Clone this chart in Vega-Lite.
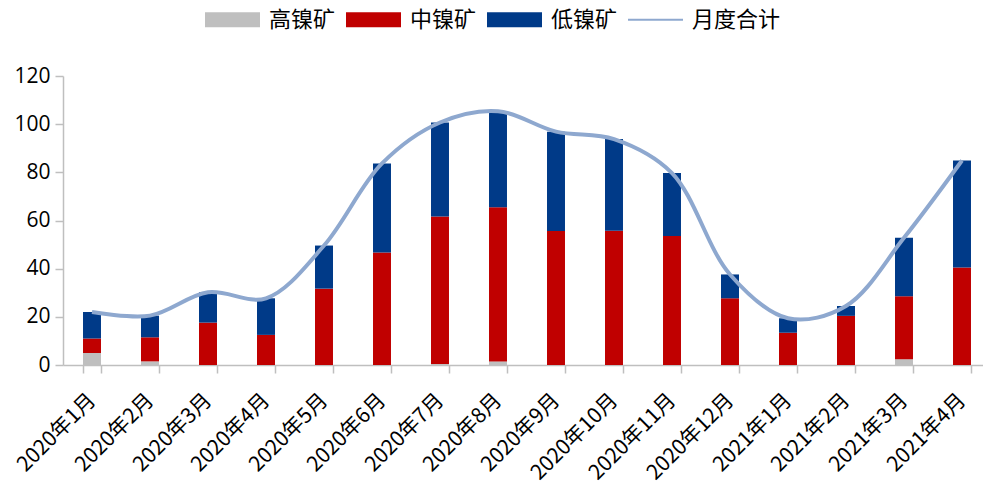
{
  "$schema": "https://vega.github.io/schema/vega-lite/v6.json",
  "width": 920,
  "height": 289,
  "autosize": {"type": "none"},
  "padding": {"left": 63, "top": 76, "right": 0, "bottom": 119},
  "background": "white",
  "config": {
    "view": {"stroke": null},
    "font": "Noto Sans CJK SC"
  },
  "datasets": {
    "bars": [
      {"月份": "2020年1月", "类型": "高镍矿", "序": 1, "值": 5},
      {"月份": "2020年1月", "类型": "中镍矿", "序": 2, "值": 6},
      {"月份": "2020年1月", "类型": "低镍矿", "序": 3, "值": 11},
      {"月份": "2020年2月", "类型": "高镍矿", "序": 1, "值": 1.5},
      {"月份": "2020年2月", "类型": "中镍矿", "序": 2, "值": 10},
      {"月份": "2020年2月", "类型": "低镍矿", "序": 3, "值": 9},
      {"月份": "2020年3月", "类型": "中镍矿", "序": 2, "值": 17.6},
      {"月份": "2020年3月", "类型": "低镍矿", "序": 3, "值": 12.6},
      {"月份": "2020年4月", "类型": "中镍矿", "序": 2, "值": 12.5},
      {"月份": "2020年4月", "类型": "低镍矿", "序": 3, "值": 15.2},
      {"月份": "2020年5月", "类型": "中镍矿", "序": 2, "值": 31.7},
      {"月份": "2020年5月", "类型": "低镍矿", "序": 3, "值": 17.9},
      {"月份": "2020年6月", "类型": "中镍矿", "序": 2, "值": 46.7},
      {"月份": "2020年6月", "类型": "低镍矿", "序": 3, "值": 37},
      {"月份": "2020年7月", "类型": "高镍矿", "序": 1, "值": 0.4},
      {"月份": "2020年7月", "类型": "中镍矿", "序": 2, "值": 61.3},
      {"月份": "2020年7月", "类型": "低镍矿", "序": 3, "值": 39},
      {"月份": "2020年8月", "类型": "高镍矿", "序": 1, "值": 1.5},
      {"月份": "2020年8月", "类型": "中镍矿", "序": 2, "值": 64},
      {"月份": "2020年8月", "类型": "低镍矿", "序": 3, "值": 39.9},
      {"月份": "2020年9月", "类型": "中镍矿", "序": 2, "值": 55.6},
      {"月份": "2020年9月", "类型": "低镍矿", "序": 3, "值": 41.3},
      {"月份": "2020年10月", "类型": "中镍矿", "序": 2, "值": 55.7},
      {"月份": "2020年10月", "类型": "低镍矿", "序": 3, "值": 38.1},
      {"月份": "2020年11月", "类型": "中镍矿", "序": 2, "值": 53.6},
      {"月份": "2020年11月", "类型": "低镍矿", "序": 3, "值": 26.1},
      {"月份": "2020年12月", "类型": "中镍矿", "序": 2, "值": 27.7},
      {"月份": "2020年12月", "类型": "低镍矿", "序": 3, "值": 9.9},
      {"月份": "2021年1月", "类型": "中镍矿", "序": 2, "值": 13.4},
      {"月份": "2021年1月", "类型": "低镍矿", "序": 3, "值": 6},
      {"月份": "2021年2月", "类型": "中镍矿", "序": 2, "值": 20.4},
      {"月份": "2021年2月", "类型": "低镍矿", "序": 3, "值": 4.1},
      {"月份": "2021年3月", "类型": "高镍矿", "序": 1, "值": 2.4},
      {"月份": "2021年3月", "类型": "中镍矿", "序": 2, "值": 26.1},
      {"月份": "2021年3月", "类型": "低镍矿", "序": 3, "值": 24.3},
      {"月份": "2021年4月", "类型": "中镍矿", "序": 2, "值": 40.5},
      {"月份": "2021年4月", "类型": "低镍矿", "序": 3, "值": 44.4}
    ],
    "total": [
      {"月份": "2020年1月", "合计": 22},
      {"月份": "2020年2月", "合计": 20.5},
      {"月份": "2020年3月", "合计": 30.2},
      {"月份": "2020年4月", "合计": 27.7},
      {"月份": "2020年5月", "合计": 49.6},
      {"月份": "2020年6月", "合计": 83.7},
      {"月份": "2020年7月", "合计": 100.7},
      {"月份": "2020年8月", "合计": 105.4},
      {"月份": "2020年9月", "合计": 96.9},
      {"月份": "2020年10月", "合计": 93.8},
      {"月份": "2020年11月", "合计": 79.7},
      {"月份": "2020年12月", "合计": 37.6},
      {"月份": "2021年1月", "合计": 19.4},
      {"月份": "2021年2月", "合计": 24.5},
      {"月份": "2021年3月", "合计": 52.8},
      {"月份": "2021年4月", "合计": 84.9}
    ]
  },
  "layer": [
    {
      "data": {"name": "bars"},
      "mark": {"type": "bar"},
      "encoding": {
        "x": {
          "field": "月份", "type": "nominal", "sort": null,
          "scale": {"paddingInner": 0.69, "paddingOuter": 0.345, "range": [0, 928]},
          "axis": {
            "title": null, "labelAngle": -45, "labelAlign": "right", "labelBaseline": "middle",
            "labelFontSize": 21, "labelColor": "#000000", "labelPadding": 24,
            "tickBand": "extent", "tickSize": 8, "tickColor": "#BFBFBF", "tickWidth": 1.5,
            "domainColor": "#BFBFBF", "domainWidth": 1.5, "grid": false
          }
        },
        "y": {
          "field": "值", "type": "quantitative", "aggregate": "sum", "stack": "zero",
          "scale": {"domain": [0, 120]},
          "axis": {
            "title": null, "values": [0, 20, 40, 60, 80, 100, 120], "grid": false,
            "labelFontSize": 21, "labelColor": "#000000", "labelPadding": 5,
            "tickSize": 8, "tickColor": "#BFBFBF", "tickWidth": 1.5,
            "domainColor": "#BFBFBF", "domainWidth": 1.5, "labelFont": "Open Sans"
          }
        },
        "color": {
          "field": "类型", "type": "nominal",
          "sort": ["高镍矿", "中镍矿", "低镍矿", "月度合计"],
          "scale": {
            "domain": ["高镍矿", "中镍矿", "低镍矿", "月度合计"],
            "range": ["#BFBFBF", "#C00000", "#003A88", "#8EA8CF"]
          },
          "legend": {
            "title": null, "orient": "none", "direction": "horizontal",
            "legendX": 142, "legendY": -84,
            "symbolType": "M-1,-0.27H1V0.27H-1Z", "symbolSize": 3025, "symbolStrokeWidth": 0,
            "labelFontSize": 22, "labelColor": "#000000", "labelOffset": 9, "columnPadding": 10,
            "labelFont": "Noto Sans CJK SC",
            "encode": {
              "symbols": {
                "update": {
                  "shape": {"signal": "datum.value === '月度合计' ? 'M-1,-0.036H1V0.036H-1Z' : 'M-1,-0.27H1V0.27H-1Z'"},
                  "fill": {"signal": "scale('color', datum.value)"},
                  "strokeWidth": {"value": 0},
                  "opacity": {"value": 1}
                }
              }
            }
          }
        },
        "order": {"field": "序", "type": "quantitative", "sort": "ascending"}
      }
    },
    {
      "data": {"name": "total"},
      "mark": {"type": "line", "interpolate": "catmull-rom", "strokeWidth": 4},
      "encoding": {
        "x": {"field": "月份", "type": "nominal", "sort": null},
        "y": {"field": "合计", "type": "quantitative"},
        "color": {"datum": "月度合计"}
      }
    }
  ]
}
